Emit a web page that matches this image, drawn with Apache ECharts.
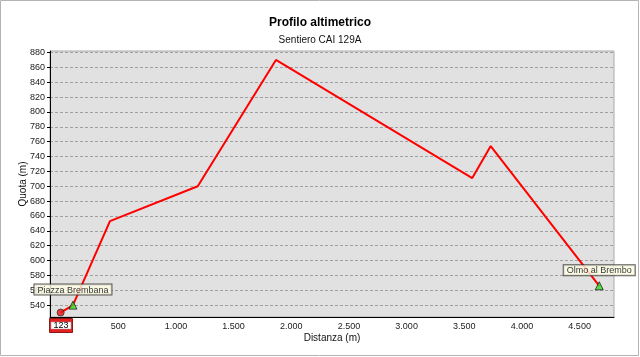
<!DOCTYPE html>
<html><head><meta charset="utf-8">
<script src="https://cdn.jsdelivr.net/npm/echarts@6/dist/echarts.min.js"></script>
<style>html,body{margin:0;padding:0;background:#fff}#c{width:640px;height:357px}</style>
</head><body><div id="c"></div>
<script>
const distances = [0, 107, 428, 1189, 1867, 3569, 3729, 4670];
const elevations = [530, 540, 653, 700, 870, 711, 754, 566];
const startPoint = [0, 530];
const waypoints = [
  {name: 'Piazza Brembana', x: 107, y: 540},
  {name: 'Olmo al Brembo', x: 4670, y: 566}
];
const yTicks = [540,560,580,600,620,640,660,680,700,720,740,760,780,800,820,840,860,880];
const xTicks = [500,1000,1500,2000,2500,3000,3500,4000,4500];
const routeNumber = '123';

const fmtIt = v => String(v).replace(/\B(?=(\d{3})+(?!\d))/g, '.');
const font = 'Liberation Sans, Arial, sans-serif';

const chart = echarts.init(document.getElementById('c'));
chart.setOption({
  animation: false,
  textStyle: {fontFamily: font},
  title: {
    text: 'Profilo altimetrico', subtext: 'Sentiero CAI 129A',
    left: 'center', top: 12, itemGap: 6,
    textStyle: {fontFamily: font, fontSize: 12, fontWeight: 'bold', color: '#000'},
    subtextStyle: {fontFamily: font, fontSize: 10, color: '#111'}
  },
  grid: {left: 50, right: 26, top: 51, bottom: 40, show: true,
         backgroundColor: '#e1e1e1', borderColor: '#a9a9a9', borderWidth: 1},
  xAxis: {
    type: 'value', min: -92, max: 4798,
    name: 'Distanza (m)', nameLocation: 'middle', nameGap: 16, nameMoveOverlap: false,
    nameTextStyle: {fontFamily: font, fontSize: 10, color: '#111'},
    axisLine: {show: true, onZero: false, lineStyle: {color: '#000', width: 1}},
    axisTick: {show: false, customValues: xTicks},
    axisLabel: {customValues: xTicks, formatter: v => fmtIt(v), fontSize: 9, color: '#222', margin: 5, fontFamily: font},
    splitLine: {show: false}
  },
  yAxis: {
    type: 'value', min: 524, max: 882,
    name: 'Quota (m)', nameLocation: 'middle', nameGap: 22, nameMoveOverlap: false,
    nameTextStyle: {fontFamily: font, fontSize: 10, color: '#111'},
    axisLine: {show: true, onZero: false, lineStyle: {color: '#000', width: 1}},
    axisTick: {show: true, length: 3, customValues: yTicks, lineStyle: {color: '#000'}},
    axisLabel: {customValues: yTicks, fontSize: 9, color: '#222', margin: 5, fontFamily: font},
    splitLine: {show: true, lineStyle: {color: '#a0a0a0', type: [3, 2], width: 1}}
  },
  series: [
    {
      type: 'line', data: distances.map((d, i) => [d, elevations[i]]),
      showSymbol: false, symbol: 'none',
      lineStyle: {color: '#ff0000', width: 2}, z: 2
    },
    {
      type: 'scatter', data: [startPoint], symbol: 'circle', symbolSize: 7,
      itemStyle: {color: '#ee1111', borderColor: '#333', borderWidth: 1}, z: 3
    },
    {
      type: 'scatter', data: waypoints.map(w => ({value: [w.x, w.y], name: w.name})),
      symbol: 'triangle', symbolSize: 8,
      itemStyle: {color: '#33dd22', borderColor: '#222', borderWidth: 1}, z: 4,
      label: {
        show: true, position: 'top', distance: 6, formatter: p => p.name,
        fontFamily: font, fontSize: 9, color: '#000',
        backgroundColor: '#ffffe6', borderColor: '#333', borderWidth: 1,
        padding: [1, 3, 0, 3]
      }
    }
  ],
  graphic: [
    {type: 'rect', shape: {x: 0.5, y: 0.5, width: 638, height: 355},
     style: {fill: 'none', stroke: '#b4b4b4', lineWidth: 1}, silent: true},
    {type: 'group', left: 49, top: 318, children: [
      {type: 'rect', shape: {x: 0, y: 0, width: 23, height: 14}, style: {fill: '#e52020', stroke: '#8a1a1a', lineWidth: 1}},
      {type: 'rect', shape: {x: 1.5, y: 3.5, width: 20, height: 7}, style: {fill: '#ffffff', stroke: '#999', lineWidth: 0.5}},
      {type: 'text', x: 11.5, y: 7.5, style: {text: routeNumber, fontFamily: font, fontSize: 9, fill: '#000', align: 'center', verticalAlign: 'middle'}}
    ]}
  ]
});
</script></body></html>
